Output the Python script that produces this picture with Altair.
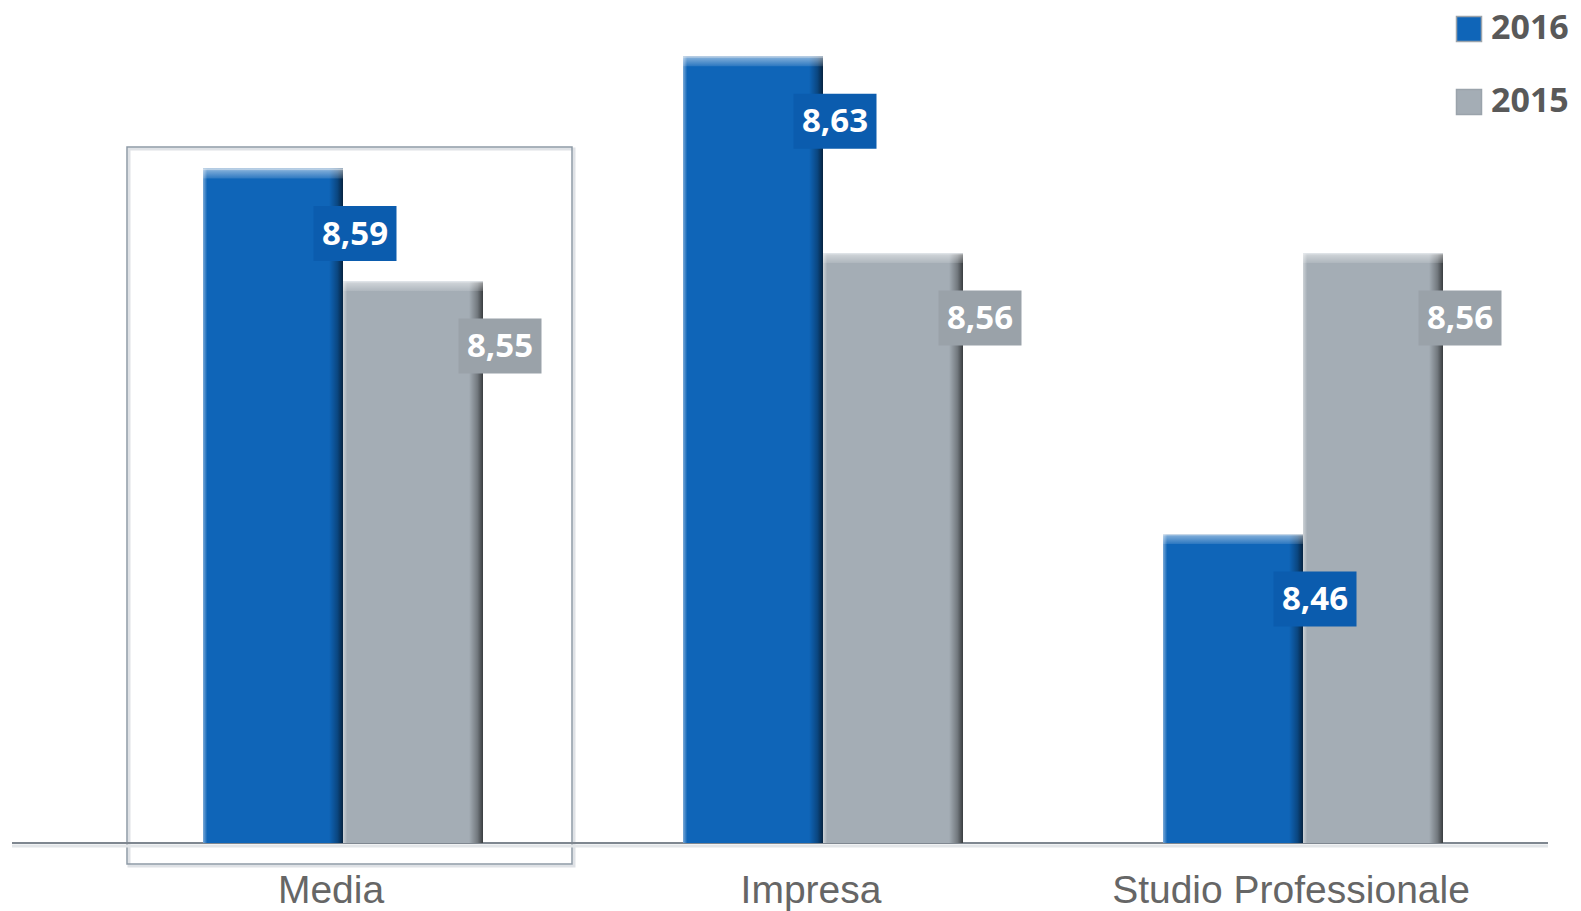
import altair as alt
import pandas as pd

categories = ["Media", "Impresa", "Studio Professionale"]
years = ["2016", "2015"]
values_2016 = [8.59, 8.63, 8.46]
values_2015 = [8.55, 8.56, 8.56]
labels_2016 = ["8,59", "8,63", "8,46"]
labels_2015 = ["8,55", "8,56", "8,56"]

BLUE = "#0f65b8"
GRAY = "#a4adb5"
BLUE_BOX = "#0b5cae"
GRAY_BOX = "#9aa2a9"
BASE = 8.35
TOP = 8.65
W, H = 1440, 843

rows = []
for c, v16, v15, l16, l15 in zip(categories, values_2016, values_2015, labels_2016, labels_2015):
    rows.append({"cat": c, "year": "2016", "value": v16, "label": l16, "base": BASE})
    rows.append({"cat": c, "year": "2015", "value": v15, "label": l15, "base": BASE})
df = pd.DataFrame(rows)
cat_df = pd.DataFrame({"cat": categories})
one = pd.DataFrame({"base": [BASE]})

x_enc = alt.X("cat:N", sort=categories, axis=None,
              scale=alt.Scale(domain=categories, paddingInner=200 / 480, paddingOuter=100 / 480))
xo_enc = alt.XOffset("year:N", sort=years,
                     scale=alt.Scale(domain=years, paddingInner=0, paddingOuter=0))
y_scale = alt.Scale(domain=[BASE, TOP], zero=False, nice=False)
y_enc = alt.Y("value:Q", axis=None, scale=y_scale)

# highlight box around "Media"
box_shadow = alt.Chart(one).mark_rect(fillOpacity=0, stroke="#dfe2e6", strokeWidth=3).encode(
    x=alt.value(26), x2=alt.value(471), y=alt.value(149), y2=alt.value(866))
box = alt.Chart(one).mark_rect(fillOpacity=0, stroke="#8e9aa6", strokeWidth=1.5).encode(
    x=alt.value(24), x2=alt.value(469), y=alt.value(147), y2=alt.value(864))

# baseline
base_shadow = alt.Chart(one).mark_rule(color="#e2e5e8", strokeWidth=3, yOffset=3).encode(
    x=alt.value(-91), x2=alt.value(1445), y=alt.Y("base:Q", axis=None, scale=y_scale))
base_line = alt.Chart(one).mark_rule(color="#7f8790", strokeWidth=2).encode(
    x=alt.value(-91), x2=alt.value(1445), y=alt.Y("base:Q", axis=None, scale=y_scale))

bars = alt.Chart(df).mark_bar().encode(
    x=x_enc, xOffset=xo_enc, y=y_enc, y2="base:Q",
    color=alt.Color("year:N", sort=years,
                    scale=alt.Scale(domain=years, range=[BLUE, GRAY]),
                    legend=alt.Legend(title=None, orient="none", legendX=1349, legendY=12,
                                      symbolType="square", symbolSize=625,
                                      symbolStrokeColor="#9aa3ab", symbolStrokeWidth=1.5,
                                      labelFont="Open Sans", labelFontSize=34,
                                      labelFontWeight="bold", labelColor="#595959",
                                      labelOffset=5, rowPadding=39)),
)

side_shade = alt.Chart(df).mark_bar(
    color=alt.LinearGradient(
        gradient="linear", x1=0, x2=1, y1=0, y2=0,
        stops=[
            alt.GradientStop(offset=0, color="rgba(255,255,255,0.45)"),
            alt.GradientStop(offset=0.03, color="rgba(255,255,255,0)"),
            alt.GradientStop(offset=0.9, color="rgba(0,0,0,0)"),
            alt.GradientStop(offset=0.96, color="rgba(0,0,0,0.3)"),
            alt.GradientStop(offset=1, color="rgba(0,0,0,0.65)"),
        ])
).encode(x=x_enc, xOffset=xo_enc, y=y_enc, y2="base:Q")

top_bevel = alt.Chart(df).mark_bar(
    y2Offset=10,
    color=alt.LinearGradient(
        gradient="linear", x1=0, x2=0, y1=0, y2=1,
        stops=[
            alt.GradientStop(offset=0, color="rgba(225,230,235,1)"),
            alt.GradientStop(offset=0.2, color="rgba(255,255,255,0.45)"),
            alt.GradientStop(offset=1, color="rgba(255,255,255,0.12)"),
        ])
).encode(x=x_enc, xOffset=xo_enc, y=y_enc, y2="value:Q")


def label_layers(year, dx, box_color):
    d = alt.Chart(df).transform_filter(alt.datum.year == year)
    rect = d.mark_rect(width=83, xOffset=dx, yOffset=65 - 27.5, y2Offset=65 + 27.5,
                       color=box_color).encode(x=x_enc, y=y_enc, y2="value:Q")
    text = d.mark_text(dx=dx, dy=66, font="Open Sans", fontSize=33, fontWeight="bold",
                       color="white", baseline="middle", align="center").encode(
        x=x_enc, y=y_enc, text="label:N")
    return [rect, text]


cat_labels = alt.Chart(cat_df).mark_text(
    baseline="alphabetic", align="center", dx=-12, font="Liberation Sans",
    fontSize=39, color="#666666").encode(x=x_enc, y=alt.value(903), text="cat:N")

chart = alt.layer(
    box_shadow, box, base_shadow, base_line, bars, side_shade, top_bevel,
    *label_layers("2016", 12, BLUE_BOX), *label_layers("2015", 157, GRAY_BOX),
    cat_labels,
).properties(
    width=W, height=H,
    autosize=alt.AutoSizeParams(type="none"),
    padding={"left": 103, "top": 0, "right": 38, "bottom": 68},
    background="white",
).configure_view(stroke=None)

chart.save("out.html", embed_options={"renderer": "svg", "actions": False})
